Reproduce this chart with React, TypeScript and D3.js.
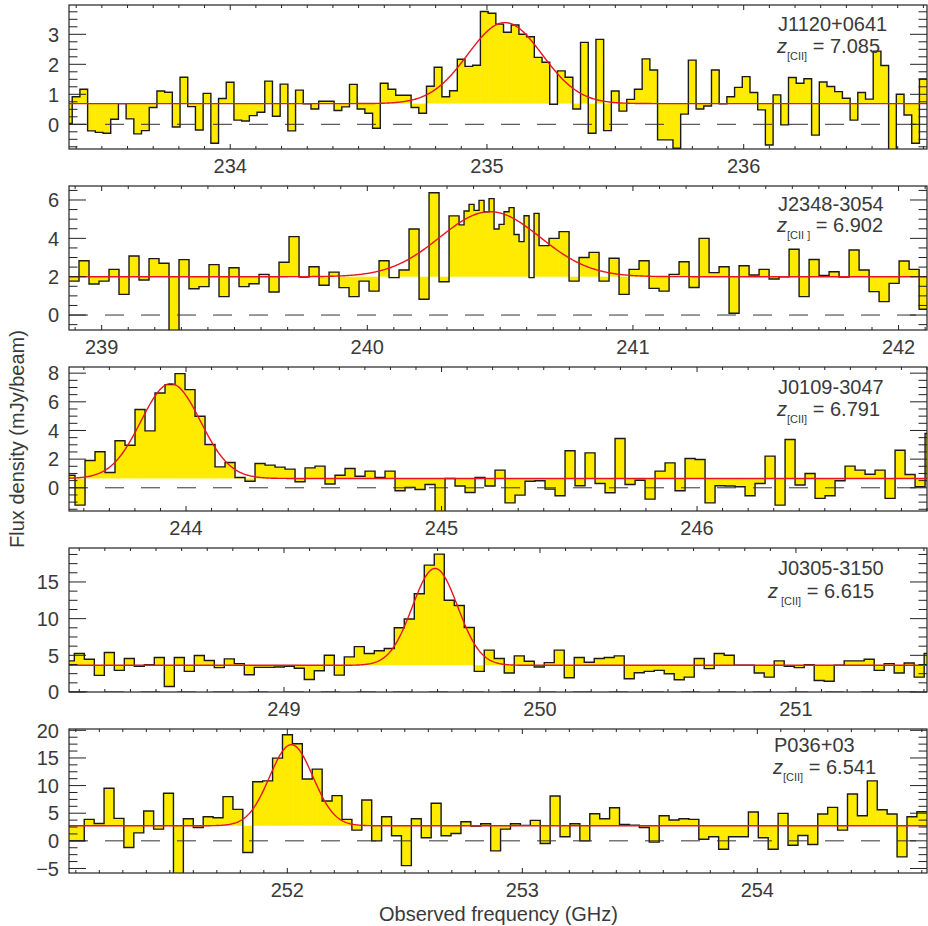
import React from 'react';
import * as d3 from 'd3';

// ---------------- data ----------------
const sourceNames = ['J1120+0641', 'J2348-3054', 'J0109-3047', 'J0305-3150', 'P036+03'];
const redshiftText = ['7.085', '6.902', '6.791', '6.615', '6.541'];
const subscriptText = ['[CII]', '[CII ]', '[CII]', '[CII]', '[CII]'];

// visible frequency range of each panel (GHz)
const freqRanges: [number, number][] = [
  [233.372, 236.714],
  [238.877, 242.107],
  [243.542, 246.9],
  [248.16, 251.512],
  [251.071, 254.722],
];
// visible flux range of each panel (mJy/beam)
const fluxRanges: [number, number][] = [
  [-0.823, 3.977],
  [-0.78, 6.73],
  [-1.62, 8.43],
  [0, 19.63],
  [-5.82, 20.24],
];
const xTickValues = [
  [234, 235, 236],
  [239, 240, 241, 242],
  [244, 245, 246],
  [249, 250, 251],
  [252, 253, 254],
];
const yTickValues = [
  [0, 1, 2, 3],
  [0, 2, 4, 6],
  [0, 2, 4, 6, 8],
  [0, 5, 10, 15],
  [-5, 0, 5, 10, 15, 20],
];
const yMinorStep = [0.25, 0.5, 0.5, 1.25, 1.25];

// channel grid: left edge of first channel and channel width (GHz)
const chanStart = [233.3545, 238.877, 243.5264, 248.1418, 251.0515];
const chanWidth = [0.03, 0.018825, 0.03914, 0.03906, 0.04218];

// fitted Gaussian + continuum
const continuum = [0.69, 2.0, 0.65, 3.64, 2.73];
const lineAmp = [2.7, 3.39, 6.62, 13.2, 14.67];
const lineCenter = [235.07, 240.462, 243.94, 249.59, 252.017];
const lineSigma = [0.145, 0.189, 0.116, 0.0885, 0.092];

const p1Flux = [
  0.03, 0.92, 1.17, -0.22, -0.27, -0.3, 0.17, 0.69, 0.18, -0.32, -0.21, 0.56, 1.11, 1.07, -0.09, 1.57,
  0.59, -0.19, 1.03, -0.63, 0.86, 1.4, 0.14, 0.11, 0.29, 0.4, 1.44, 0.27, 1.34, -0.22, 1.14, 0.68,
  0.51, 0.77, 0.77, 0.46, 0.58, 1.33, 0.51, 0.37, -0.13, 1.37, 1.17, 0.97, 0.97, 0.56, 0.37, 1.27,
  1.9, 0.92, 1.12, 2.17, 1.93, 1.97, 3.76, 3.7,
  3.34, 3.07, 3.31, 3.0, 2.92, 2.23, 2.07, 0.67, 1.78, 1.57, 0.51, 2.73, -0.3, 2.83, -0.21, 1.11,
  0.44, 0.83, 1.17, 2.18, 1.81, -0.52, -0.52, -0.8, 0.34, 2.14, 0.51, 0.61, 1.81, 0.68, 0.92, 1.23,
  1.59, 1.06, 0.48, -0.69, 0.98, -0.02, 1.56, 1.37, 1.52, -0.36, 1.41, 1.26, 1.09, 0.87, 0.14, 1.06,
  0.84, 2.44, 1.96, -0.95, 1.0, 0.31, -0.63, 1.51,
];
const p2Flux = [
  1.77, 2.83, 1.62, 1.77, 2.38, 1.08, 3.08, 1.83, 2.94, 2.7, -1.0, 2.89, 1.37, 1.48, 2.63, 0.96,
  2.47, 1.48, 1.63, 2.12, 1.2, 2.75, 4.09, 1.98, 2.52, 1.55, 2.24, 1.43, 0.96, 1.77, 1.25, 2.83,
  1.95, 2.35, 4.49, 0.82, 6.38, 1.74, 5.17,
  4.7, 5.43, 5.77, 5.46, 5.98, 5.39, 6.07, 4.49, 4.73, 5.39, 5.6, 4.2, 3.83, 5.18, 1.95, 5.3,
  3.62, 4.0, 4.35, 1.77, 3.0, 3.27, 1.77, 2.96, 1.08, 2.38, 2.83, 1.39, 1.25, 2.12, 2.78, 1.44,
  4.0, 2.21, 2.52, 0.09, 2.57, 2.09, 2.38, 1.88, 2.0, 3.43, 0.96, 2.9, 2.07, 2.26, 1.98, 3.39,
  2.35, 1.22, 0.7, 1.65, 2.82, 2.38, 0.3,
];
// panel 2 mixes wide (2 channels) and narrow (1 channel) bins: [count, channels per bin]
const p2BinGroups: [number, number][] = [
  [39, 2],
  [16, 1],
  [39, 2],
];
const p3Flux = [
  0.88, -1.21, 1.9, 2.51, 1.07, 3.28, 2.97, 5.46, 3.97, 6.62, 7.2, 7.97, 6.85, 4.99, 3.02, 1.46,
  1.77, 0.72, 0.46, 1.7, 1.58, 1.44, 1.3, 0.42, 1.39, 1.51, 0.26, 0.88, 1.35, 0.81, 1.16, 0.72,
  1.16, -0.21, 0.02, -0.12, 0.23, -1.8, 0.65, 0.12, -0.33, 0.72, 0.12,
  1.23, -1.05, -0.51, 0.46, 0.49, -0.09, -0.56, 2.58, 0.14, 2.44, 0.3, -0.35, 3.44, 0.23, 0.53, -0.79,
  1.16, 1.74, -0.21, 2.04, 1.97, -1.05, 0.14, 0.12, 0.07, -0.56, 0.3, 2.21, -1.21, 3.37, 0.19, 1.0,
  -0.74, -0.56, 0.49, 1.51, 1.23, 0.95, 1.23, -0.74, 2.62, 0.93, 0.07, 3.79,
];
const p4Flux = [
  4.24, 5.25, 4.47, 2.26, 5.39, 2.95, 4.56, 3.5, 3.73, 4.7, 0.74, 4.7, 2.81, 4.98, 4.29, 3.32,
  4.52, 3.87, 2.35, 3.36, 3.36, 3.41, 3.5, 3.23, 1.71, 2.9, 5.02, 2.3, 4.79, 6.18, 5.25, 5.62,
  5.94, 8.76, 9.95, 13.4, 17.3, 18.8, 12.5, 11.8, 8.8, 2.81, 5.71,
  4.56, 2.58, 4.93, 4.19, 3.41, 4.0, 5.71, 1.94, 4.7, 4.06, 4.56, 4.7, 4.93, 1.8, 2.63, 2.81,
  2.95, 2.49, 1.66, 2.03, 4.56, 3.18, 5.25, 5.02, 3.64, 3.64, 2.58, 2.03, 4.24, 3.5, 3.32, 3.73,
  1.57, 1.47, 3.64, 4.24, 4.24, 4.47, 2.95, 3.87, 2.58, 3.96, 2.03, 5.25,
];
const p5Flux = [
  0.0, 0.0, 3.88, 3.15, 9.52, 4.06, -1.21, 1.45, 5.39, 2.12, 8.6, -6.2, 4.0, 2.42, 4.36, 4.18,
  8.0, 5.7, -2.12, 10.7, 10.85, 14.97, 19.2, 17.58, 11.2, 12.97, 7.21, 8.18, 3.88, 1.94, 7.39, 0.0,
  4.36, 0.91, -4.48, 4.0, 0.55, 6.79, 0.91, 1.33, 3.45, 2.67, 3.09,
  -1.82, 2.12, 3.09, 2.79, 3.7, -0.48, 8.12, 0.73, 3.09, 0.0, 4.91, 4.0, 6.0, 2.97, 2.85, 2.42,
  -0.24, 4.55, 3.76, 4.0, 3.88, 0.3, 0.73, -1.52, 0.73, 0.73, 5.21, 0.55, -1.52, 4.97, -0.79, 0.97,
  -0.67, 4.85, 6.06, 1.94, 8.48, 4.55, 10.85, 5.64, 4.85, -2.91, 4.36, 5.27,
];
const fluxes = [p1Flux, p2Flux, p3Flux, p4Flux, p5Flux];

// ---------------- layout ----------------
const W = 928;
const H = 926;
const plotLeft = 69;
const plotRight = 927;
const panelTops = [5, 186, 367, 548, 729];
const panelHeight = 144;
const nameBaselines = [31, 211, 394, 575, 752];
const zBaselines = [52.5, 232, 415.5, 598, 774];
const nameX = [778, 778, 778, 778, 774];
const zX = [777, 777, 777, 768, 773];
const zSubGap = [0, 0, 0, 3, 0];

const FONT = "'Liberation Sans', Arial, Helvetica, sans-serif";
const TEXT = '#3a3a3a';
const YELLOW = '#FFEB00';
const RED = '#E8141E';

function binSpans(k: number): number[] {
  if (k === 1) return p2BinGroups.flatMap(([n, s]) => d3.range(n).map(() => s));
  return fluxes[k].map(() => 1);
}

function Panel({ k }: { k: number }) {
  const top = panelTops[k];
  const bottom = top + panelHeight;
  const [fmin, fmax] = freqRanges[k];
  const x = d3.scaleLinear().domain([fmin, fmax]).range([plotLeft, plotRight]);
  const y = d3.scaleLinear().domain(fluxRanges[k]).range([bottom, top]);
  const cont = continuum[k];
  const spans = binSpans(k);
  let cum = 0;
  const bins = fluxes[k].map((v, j) => {
    const f0 = chanStart[k] + cum * chanWidth[k];
    cum += spans[j];
    const f1 = chanStart[k] + cum * chanWidth[k];
    return { f0, f1, v };
  });
  const stepPts: [number, number][] = bins.flatMap((b) => [
    [x(b.f0), y(b.v)] as [number, number],
    [x(b.f1), y(b.v)] as [number, number],
  ]);
  const stepPath = d3.line()(stepPts) || '';
  const gaussPts: [number, number][] = d3.range(0, 1201).map((t) => {
    const f = fmin + ((fmax - fmin) * t) / 1200;
    const v = cont + lineAmp[k] * Math.exp(-0.5 * ((f - lineCenter[k]) / lineSigma[k]) ** 2);
    return [x(f), y(v)];
  });
  const gaussPath = d3.line()(gaussPts) || '';

  const majorX = xTickValues[k];
  const minorX = d3
    .range(Math.ceil(fmin * 10), Math.floor(fmax * 10) + 1)
    .map((v) => v / 10)
    .filter((v) => !majorX.some((m) => Math.abs(m - v) < 1e-6));
  const [ymin, ymax] = fluxRanges[k];
  const step = yMinorStep[k];
  const minorY = d3
    .range(Math.ceil(ymin / step), Math.floor(ymax / step) + 1)
    .map((v) => v * step)
    .filter((v) => !yTickValues[k].some((m) => Math.abs(m - v) < 1e-6));

  const clipId = `clip-${k}`;
  const fmtY = (d: number) => (d < 0 ? '\u2212' + Math.abs(d) : String(d));

  return (
    <g>
      <defs>
        <clipPath id={clipId}>
          <rect x={plotLeft} y={top} width={plotRight - plotLeft} height={panelHeight} />
        </clipPath>
      </defs>
      <g clipPath={`url(#${clipId})`}>
        {bins.map((b, j) => (
          <rect
            key={j}
            x={x(b.f0)}
            width={x(b.f1) - x(b.f0) + 0.4}
            y={Math.min(y(b.v), y(cont))}
            height={Math.abs(y(b.v) - y(cont))}
            fill={YELLOW}
          />
        ))}
        <path d={stepPath} fill="none" stroke="#1a1a1a" strokeWidth={1.4} />
        <line
          x1={plotLeft}
          x2={plotRight}
          y1={y(0)}
          y2={y(0)}
          stroke="#333"
          strokeWidth={1}
          strokeDasharray="19,17"
        />
        <path d={gaussPath} fill="none" stroke={RED} strokeWidth={1.4} />
      </g>
      <rect
        x={plotLeft}
        y={top}
        width={plotRight - plotLeft}
        height={panelHeight}
        fill="none"
        stroke="#222"
        strokeWidth={1.2}
      />
      {majorX.map((t) => (
        <g key={'mx' + t}>
          <line x1={x(t)} x2={x(t)} y1={bottom} y2={bottom - 5} stroke="#222" />
          <line x1={x(t)} x2={x(t)} y1={top} y2={top + 5} stroke="#222" />
          <text
            x={x(t)}
            y={bottom + 24}
            textAnchor="middle"
            fontSize={20}
            fill={TEXT}
            fontFamily={FONT}
          >
            {t}
          </text>
        </g>
      ))}
      {minorX.map((t) => (
        <g key={'nx' + t}>
          <line x1={x(t)} x2={x(t)} y1={bottom} y2={bottom - 3} stroke="#222" />
          <line x1={x(t)} x2={x(t)} y1={top} y2={top + 3} stroke="#222" />
        </g>
      ))}
      {yTickValues[k].map((t) => (
        <g key={'my' + t}>
          <line x1={plotLeft} x2={plotLeft + 17} y1={y(t)} y2={y(t)} stroke="#222" />
          <line x1={plotRight} x2={plotRight - 17} y1={y(t)} y2={y(t)} stroke="#222" />
          <text
            x={59}
            y={y(t)}
            dy="0.36em"
            textAnchor="end"
            fontSize={20}
            fill={TEXT}
            fontFamily={FONT}
          >
            {fmtY(t)}
          </text>
        </g>
      ))}
      {minorY.map((t) => (
        <g key={'ny' + t}>
          <line x1={plotLeft} x2={plotLeft + 8.5} y1={y(t)} y2={y(t)} stroke="#222" />
          <line x1={plotRight} x2={plotRight - 8.5} y1={y(t)} y2={y(t)} stroke="#222" />
        </g>
      ))}
      <text x={nameX[k]} y={nameBaselines[k]} fontSize={20} fill={TEXT} fontFamily={FONT}>
        {sourceNames[k]}
      </text>
      <text x={zX[k]} y={zBaselines[k]} fontSize={20} fill={TEXT} fontFamily={FONT}>
        <tspan fontStyle="italic">z</tspan>
        <tspan fontSize={11} dy={7} dx={zSubGap[k]}>
          {subscriptText[k]}
        </tspan>
        <tspan dy={-7}>{' = ' + redshiftText[k]}</tspan>
      </text>
    </g>
  );
}

export default function App() {
  return (
    <svg
      width={W}
      height={H}
      viewBox={`0 0 ${W} ${H}`}
      style={{ position: 'absolute', left: 0, top: 0, background: '#fff' }}
    >
      <rect x={0} y={0} width={W} height={H} fill="#fff" />
      {fluxes.map((_, k) => (
        <Panel key={k} k={k} />
      ))}
      <text
        transform="translate(24,439) rotate(-90)"
        textAnchor="middle"
        fontSize={20}
        fill={TEXT}
        fontFamily={FONT}
      >
        Flux density (mJy/beam)
      </text>
      <text x={498.5} y={921} textAnchor="middle" fontSize={20} fill={TEXT} fontFamily={FONT}>
        Observed frequency (GHz)
      </text>
    </svg>
  );
}
